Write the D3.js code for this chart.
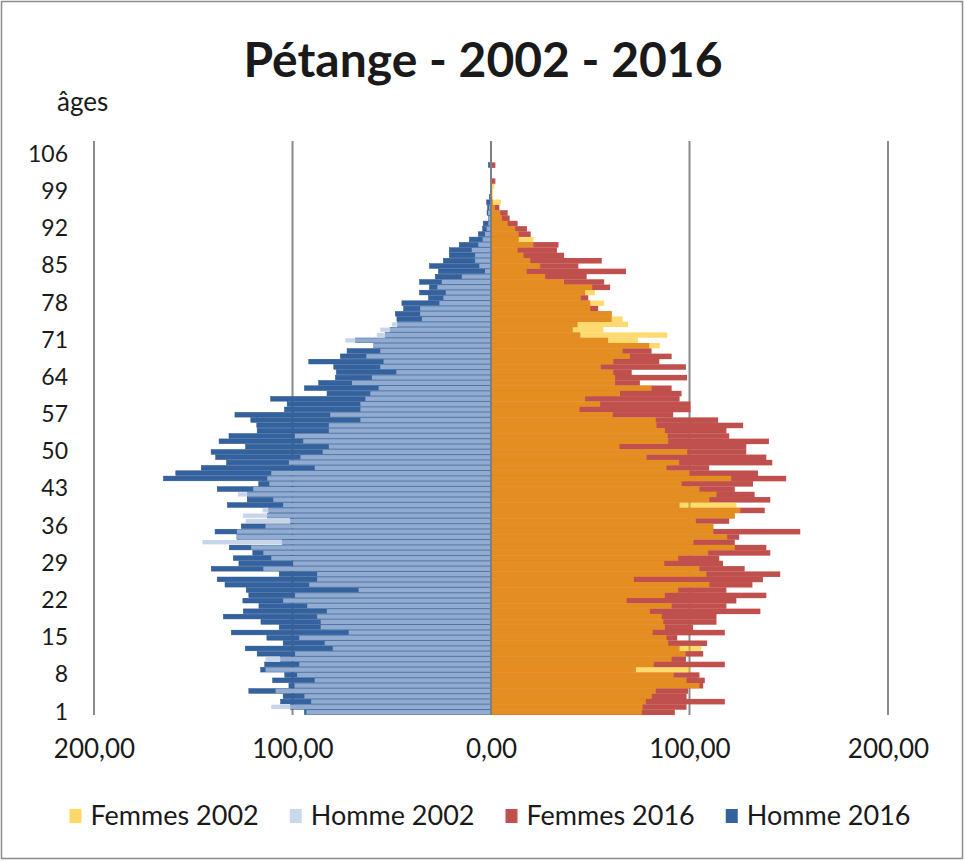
<!DOCTYPE html>
<html><head><meta charset="utf-8">
<script src="https://cdn.jsdelivr.net/npm/d3@7"></script>
<style>body{margin:0;background:#fff}svg{display:block}text{font-family:Lato,"Open Sans",sans-serif;fill:#1a1a1a}</style>
</head><body><svg id="c" width="965" height="861"></svg>
<script>
// ages 1..108 (bottom to top)
const ages = d3.range(1, 109);
const yTickAges = [1, 8, 15, 22, 29, 36, 43, 50, 57, 64, 71, 78, 85, 92, 99, 106];
const xTickValues = [-200, -100, 0, 100, 200];
const xTickLabels = ["200,00", "100,00", "0,00", "100,00", "200,00"];
const seriesNames = ["Femmes 2002", "Homme 2002", "Femmes 2016", "Homme 2016"];

// values per age 1..108
const homme2002 = [93,110.7,90.6,94,108.5,99,88.8,97.7,113.6,96.6,113.6,98.7,79.7,83.8,96.6,71.7,85.8,85.8,87.6,82.7,
  92.6,104.7,98.7,66.7,91.6,87.6,87.6,114.7,99.7,110.7,114.7,120.8,145.4,128,128,113.6,123.6,125,115,104.7,
  109.7,127.5,119.8,111.7,112.7,110.7,88.8,101.8,96,84.8,81.7,94.6,98.8,81.7,81.7,65.8,81,65.8,65.8,63.3,
  60.8,56.6,70,60,47.7,55.8,54.1,62.8,55.8,59,73.4,57.5,55.8,49.9,34.8,35.7,35.7,26,24,22.8,
  27,24.8,14.7,3,5.9,8,8,9.7,6.4,4.2,3,2.2,1.3,1.3,1.5,1,0.5,0.5,0,0,
  0,0,0,0,0,0,0,0];
const homme2016 = [94,101,106,104.7,122,101.8,110,103.9,116,114,106,117.8,123.8,104.7,112.9,130.8,106.7,115.9,134.8,124.8,
  116.9,125,122,123.3,134,137.9,106.7,140.9,127,129.8,120,131.8,105.2,128,139,125.8,101,112.7,112,132.8,
  122.8,122.8,137.9,117,165,158.8,145.9,133.2,138.7,141,123.6,137,132,117.8,118,121,129,104,102.7,111,
  82.6,94,86.8,78.4,77.9,79.2,91.8,75.9,72.5,59,68.3,53.3,50.8,47,47.4,48.2,44,44.9,31.5,36,
  31,36,28.1,26.5,31,24,21,21,16,10.9,6.4,4.2,3.9,1.3,2,1.7,2.2,0.8,0,0,
  0,0,0,1.3,0,0,0,0];
const femmes2002 = [76,76.4,78,81,83,105,98.5,92,100.2,82,91,98,106,89.3,88.4,81.4,87.6,86.8,86,80,
  91,68.3,87.6,94.3,110,72,108.5,105,87.3,94.3,109.4,122.8,102,119,112,112,103.2,122.8,125.6,123.6,
  110,113.6,105,96,121,100,88.4,94.8,78.4,98.8,64.7,89.3,89,87.6,83.4,83,61.3,44.6,55,47.4,
  65,80.9,62.5,62.5,61.6,55.3,61.6,70,66.3,85,74,88.8,56.6,69,66.3,60.8,50,57,45.2,52.4,
  51,36.8,27.3,18,24.8,19.8,16.4,13.4,21.4,21.4,13.9,12.2,8.4,5.5,4.7,2,5,1,1,1.7,
  0,0,0,0,0,0,0,0];
const femmes2016 = [92.6,98.5,117.8,98.5,99.3,106.9,107.7,105,73,117.8,98.2,106.9,95,108.9,93.8,117.8,101.8,113.6,113.6,135.7,
  118.6,123.6,138.7,118.6,131.7,137,145.7,127.8,116.9,115,140.7,138.7,122.8,125,155.8,112,120,122.8,137.9,95,
  140.7,132.8,122.8,132,148.7,134.5,109.9,141.7,138.7,128.6,128.6,140,120,118.6,127,114.4,91.8,100.5,100.5,95,
  96,91,75,98.8,70.9,98.2,84.8,91,80.9,79.7,59,45,41.2,43.6,60.8,60.8,54,50,49,47.4,
  60,57,48.2,68,44,55.8,36.8,33.2,34,14,20,18.1,13.4,9.4,8.4,4.2,1,0,0,0,
  2.2,0,0,2.2,0,0,0,0];

const svg = d3.select("#c");
svg.append("rect").attr("x",1.5).attr("y",1.5).attr("width",961).attr("height",857)
  .attr("fill","#fff").attr("stroke","#8c8c8c").attr("stroke-width",1.5);

const x = d3.scaleLinear().domain([-200, 200]).range([94, 888]);
const y = d3.scaleBand().domain(ages).range([715, 141]).paddingInner(0).paddingOuter(0.03);
const step = y.bandwidth();

// gridlines
svg.append("g").selectAll("line").data(xTickValues.filter(v => v !== 0)).join("line")
  .attr("x1", d => x(d)).attr("x2", d => x(d)).attr("y1", 141).attr("y2", 715)
  .attr("stroke", "#8a8a8a").attr("stroke-width", 2);

// 2016 bars (opaque, behind)
svg.append("g").selectAll("rect").data(ages).join("rect")
  .attr("x", (d,i) => x(-homme2016[i])).attr("width", (d,i) => x(0) - x(-homme2016[i]))
  .attr("y", d => y(d) + 0.3).attr("height", step - 0.6)
  .attr("fill", "#33629e").attr("stroke", "#27538c").attr("stroke-width", 0.5);
svg.append("g").selectAll("rect").data(ages).join("rect")
  .attr("x", x(0)).attr("width", (d,i) => x(femmes2016[i]) - x(0))
  .attr("y", d => y(d)).attr("height", step + 0.2)
  .attr("fill", "#c0504d");
// 2002 bars (translucent, in front)
svg.append("g").selectAll("rect").data(ages).join("rect")
  .attr("x", (d,i) => x(-homme2002[i])).attr("width", (d,i) => x(0) - x(-homme2002[i]))
  .attr("y", d => y(d) + 0.5).attr("height", step - 1)
  .attr("fill", "#b4c7e2").attr("fill-opacity", 0.74);
svg.append("g").selectAll("rect").data(ages).join("rect")
  .attr("x", x(0)).attr("width", (d,i) => x(femmes2002[i]) - x(0))
  .attr("y", d => y(d)).attr("height", step)
  .attr("fill", "#ffbe00").attr("fill-opacity", 0.57);

// zero axis
svg.append("line").attr("x1", x(0)).attr("x2", x(0)).attr("y1", 141).attr("y2", 715)
  .attr("stroke", "#7f7f7f").attr("stroke-width", 2);

// y axis labels
const ya = svg.append("g").attr("transform", "translate(68,0)")
  .call(d3.axisLeft(y).tickValues(yTickAges).tickSize(0).tickPadding(0));
ya.select(".domain").remove();
ya.selectAll("text").style("font-size", "23px").style("font-family", "Lato, sans-serif").attr("fill", "#1a1a1a");

// x axis labels
const xa = svg.append("g").attr("transform", "translate(0,740)")
  .call(d3.axisBottom(x).tickValues(xTickValues).tickSize(0).tickPadding(0).tickFormat((d,i) => xTickLabels[i]));
xa.select(".domain").remove();
xa.selectAll("text").style("font-size", "26px").style("font-family", "Lato, sans-serif").attr("fill", "#1a1a1a");

// title
svg.append("text").attr("x", 483).attr("y", 77).attr("text-anchor", "middle")
  .style("font-size", "48px").style("font-weight", "bold").text("Pétange - 2002 - 2016");
svg.append("text").attr("x", 57).attr("y", 111).style("font-size", "26px").text("âges");

// legend
const legendColors = ["#ffd966", "#c9d8ec", "#c0504d", "#33629e"];
const lg = svg.append("g");
let cx = 0;
seriesNames.forEach((name, i) => {
  const g = lg.append("g").attr("transform", `translate(${cx},0)`);
  g.append("rect").attr("x", 0).attr("y", -7).attr("width", 12).attr("height", 14).attr("fill", legendColors[i]);
  const t = g.append("text").attr("x", 21).attr("y", 0).attr("dy", "0.35em").style("font-size", "27px").text(name);
  const w = t.node().getComputedTextLength();
  cx += 21 + w + 31;
});
const totalW = cx - 31;
lg.attr("transform", `translate(${490 - totalW/2},816)`);
</script></body></html>
